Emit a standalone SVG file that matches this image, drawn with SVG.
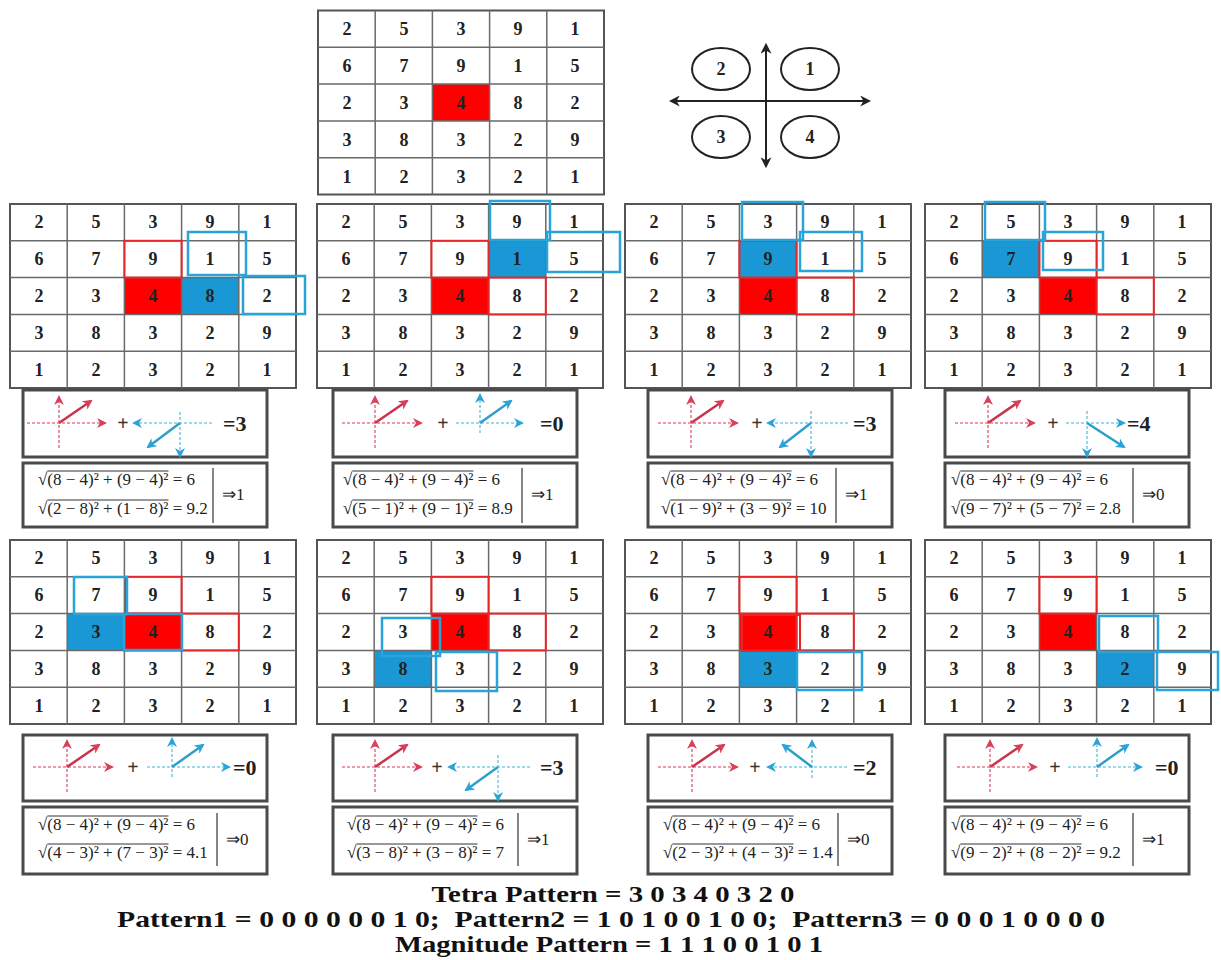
<svg xmlns="http://www.w3.org/2000/svg" width="1221" height="960" viewBox="0 0 1221 960">
<style>
.gb{fill:none;stroke:#555;stroke-width:2}
.gl{fill:none;stroke:#6a6a6a;stroke-width:1.5}
.n{font-family:"Liberation Serif",serif;font-weight:bold;font-size:18px;fill:#222;text-anchor:middle}
.rf{fill:#ff0000}
.bf{fill:#1a98d5}
.ro{fill:none;stroke:#e8262a;stroke-width:2}
.bo{fill:none;stroke:#2aa3d8;stroke-width:2.5}
.box{fill:#fff;stroke:#4a4a4a;stroke-width:3}
.f{font-family:"Liberation Serif",serif;font-size:17px;fill:#222}
.ov{fill:none;stroke:#333;stroke-width:1}
.bar{fill:none;stroke:#333;stroke-width:1.2}
.eq{font-family:"Liberation Serif",serif;font-weight:bold;font-size:22px;fill:#222}
.pl{font-family:"Liberation Serif",serif;font-weight:bold;font-size:20px;fill:#333;text-anchor:middle}
.rd{fill:none;stroke:#e7788a;stroke-width:1.6;stroke-dasharray:3 2}
.rs{fill:none;stroke:#c9344c;stroke-width:2.5}
.bd{fill:none;stroke:#7fcbe6;stroke-width:1.6;stroke-dasharray:3 2}
.bs{fill:none;stroke:#2e9ecb;stroke-width:2.5}
.ax{fill:none;stroke:#222;stroke-width:2}
.ql{font-family:"Liberation Serif",serif;font-weight:bold;font-size:18px;fill:#222;text-anchor:middle}
.bt{font-family:"Liberation Serif",serif;font-weight:bold;font-size:23px;fill:#111;text-anchor:middle}
</style>
<defs>
<marker id="ahr" viewBox="0 0 10 10" refX="8" refY="5" markerWidth="10" markerHeight="10" markerUnits="userSpaceOnUse" orient="auto"><path d="M0,0 L10,5 L0,10 L3,5 z" fill="#d8405a"/></marker>
<marker id="ahb" viewBox="0 0 10 10" refX="8" refY="5" markerWidth="10" markerHeight="10" markerUnits="userSpaceOnUse" orient="auto"><path d="M0,0 L10,5 L0,10 L3,5 z" fill="#2aa3d8"/></marker>
<marker id="ahk" viewBox="0 0 10 10" refX="8" refY="5" markerWidth="11" markerHeight="11" markerUnits="userSpaceOnUse" orient="auto-start-reverse"><path d="M0,0 L10,5 L0,10 L3,5 z" fill="#222"/></marker>
</defs>
<rect width="1221" height="960" fill="#fff"/>

<!-- top grid -->
<g id="grid-top" transform="translate(318,10.5)">
<rect class="rf" x="114.4" y="73.6" width="57.2" height="36.8"/>
<rect class="gb" width="286" height="184"/>
<path class="gl" d="M57.2 0V184M114.4 0V184M171.6 0V184M228.8 0V184M0 36.8H286M0 73.6H286M0 110.4H286M0 147.2H286"/>
<text class="n" x="29" y="24">2</text><text class="n" x="86" y="24">5</text><text class="n" x="143" y="24">3</text><text class="n" x="200" y="24">9</text><text class="n" x="257" y="24">1</text>
<text class="n" x="29" y="61">6</text><text class="n" x="86" y="61">7</text><text class="n" x="143" y="61">9</text><text class="n" x="200" y="61">1</text><text class="n" x="257" y="61">5</text>
<text class="n" x="29" y="98">2</text><text class="n" x="86" y="98">3</text><text class="n" x="143" y="98">4</text><text class="n" x="200" y="98">8</text><text class="n" x="257" y="98">2</text>
<text class="n" x="29" y="135">3</text><text class="n" x="86" y="135">8</text><text class="n" x="143" y="135">3</text><text class="n" x="200" y="135">2</text><text class="n" x="257" y="135">9</text>
<text class="n" x="29" y="172">1</text><text class="n" x="86" y="172">2</text><text class="n" x="143" y="172">3</text><text class="n" x="200" y="172">2</text><text class="n" x="257" y="172">1</text>
</g>

<!-- quadrant legend -->
<g id="quadrant-legend">
<line class="ax" x1="766" y1="45" x2="766" y2="166" marker-start="url(#ahk)" marker-end="url(#ahk)"/>
<line class="ax" x1="671" y1="101" x2="869" y2="101" marker-start="url(#ahk)" marker-end="url(#ahk)"/>
<ellipse class="ax" cx="721" cy="69" rx="29" ry="21"/><text class="ql" x="721" y="75">2</text>
<ellipse class="ax" cx="810" cy="69" rx="29" ry="21"/><text class="ql" x="810" y="75">1</text>
<ellipse class="ax" cx="721" cy="137" rx="29" ry="21"/><text class="ql" x="721" y="143">3</text>
<ellipse class="ax" cx="810" cy="137" rx="29" ry="21"/><text class="ql" x="810" y="143">4</text>
</g>

<!-- row 1 grids -->
<g id="grid-1" transform="translate(10,204)">
<rect class="rf" x="114.4" y="73.6" width="57.2" height="36.8"/>
<rect class="bf" x="171.6" y="73.6" width="57.2" height="36.8"/>
<rect class="gb" width="286" height="184"/>
<path class="gl" d="M57.2 0V184M114.4 0V184M171.6 0V184M228.8 0V184M0 36.8H286M0 73.6H286M0 110.4H286M0 147.2H286"/>
<rect class="ro" x="114.4" y="36.8" width="57.2" height="36.8"/>
<rect class="bo" x="178" y="28" width="58" height="43"/>
<rect class="bo" x="233" y="72" width="62" height="38"/>
<text class="n" x="29" y="24">2</text><text class="n" x="86" y="24">5</text><text class="n" x="143" y="24">3</text><text class="n" x="200" y="24">9</text><text class="n" x="257" y="24">1</text>
<text class="n" x="29" y="61">6</text><text class="n" x="86" y="61">7</text><text class="n" x="143" y="61">9</text><text class="n" x="200" y="61">1</text><text class="n" x="257" y="61">5</text>
<text class="n" x="29" y="98">2</text><text class="n" x="86" y="98">3</text><text class="n" x="143" y="98">4</text><text class="n" x="200" y="98">8</text><text class="n" x="257" y="98">2</text>
<text class="n" x="29" y="135">3</text><text class="n" x="86" y="135">8</text><text class="n" x="143" y="135">3</text><text class="n" x="200" y="135">2</text><text class="n" x="257" y="135">9</text>
<text class="n" x="29" y="172">1</text><text class="n" x="86" y="172">2</text><text class="n" x="143" y="172">3</text><text class="n" x="200" y="172">2</text><text class="n" x="257" y="172">1</text>
</g>

<g id="grid-2" transform="translate(317,204)">
<rect class="rf" x="114.4" y="73.6" width="57.2" height="36.8"/>
<rect class="bf" x="171.6" y="36.8" width="57.2" height="36.8"/>
<rect class="gb" width="286" height="184"/>
<path class="gl" d="M57.2 0V184M114.4 0V184M171.6 0V184M228.8 0V184M0 36.8H286M0 73.6H286M0 110.4H286M0 147.2H286"/>
<rect class="ro" x="114.4" y="36.8" width="57.2" height="36.8"/>
<rect class="ro" x="171.6" y="73.6" width="57.2" height="36.8"/>
<rect class="bo" x="173" y="-3" width="60" height="39"/>
<rect class="bo" x="230" y="28" width="73" height="40"/>
<text class="n" x="29" y="24">2</text><text class="n" x="86" y="24">5</text><text class="n" x="143" y="24">3</text><text class="n" x="200" y="24">9</text><text class="n" x="257" y="24">1</text>
<text class="n" x="29" y="61">6</text><text class="n" x="86" y="61">7</text><text class="n" x="143" y="61">9</text><text class="n" x="200" y="61">1</text><text class="n" x="257" y="61">5</text>
<text class="n" x="29" y="98">2</text><text class="n" x="86" y="98">3</text><text class="n" x="143" y="98">4</text><text class="n" x="200" y="98">8</text><text class="n" x="257" y="98">2</text>
<text class="n" x="29" y="135">3</text><text class="n" x="86" y="135">8</text><text class="n" x="143" y="135">3</text><text class="n" x="200" y="135">2</text><text class="n" x="257" y="135">9</text>
<text class="n" x="29" y="172">1</text><text class="n" x="86" y="172">2</text><text class="n" x="143" y="172">3</text><text class="n" x="200" y="172">2</text><text class="n" x="257" y="172">1</text>
</g>

<g id="grid-3" transform="translate(625,204)">
<rect class="rf" x="114.4" y="73.6" width="57.2" height="36.8"/>
<rect class="bf" x="114.4" y="36.8" width="57.2" height="36.8"/>
<rect class="gb" width="286" height="184"/>
<path class="gl" d="M57.2 0V184M114.4 0V184M171.6 0V184M228.8 0V184M0 36.8H286M0 73.6H286M0 110.4H286M0 147.2H286"/>
<rect class="ro" x="114.4" y="36.8" width="57.2" height="36.8"/>
<rect class="ro" x="171.6" y="73.6" width="57.2" height="36.8"/>
<rect class="bo" x="117" y="-2" width="61" height="38"/>
<rect class="bo" x="175" y="28" width="62" height="39"/>
<text class="n" x="29" y="24">2</text><text class="n" x="86" y="24">5</text><text class="n" x="143" y="24">3</text><text class="n" x="200" y="24">9</text><text class="n" x="257" y="24">1</text>
<text class="n" x="29" y="61">6</text><text class="n" x="86" y="61">7</text><text class="n" x="143" y="61">9</text><text class="n" x="200" y="61">1</text><text class="n" x="257" y="61">5</text>
<text class="n" x="29" y="98">2</text><text class="n" x="86" y="98">3</text><text class="n" x="143" y="98">4</text><text class="n" x="200" y="98">8</text><text class="n" x="257" y="98">2</text>
<text class="n" x="29" y="135">3</text><text class="n" x="86" y="135">8</text><text class="n" x="143" y="135">3</text><text class="n" x="200" y="135">2</text><text class="n" x="257" y="135">9</text>
<text class="n" x="29" y="172">1</text><text class="n" x="86" y="172">2</text><text class="n" x="143" y="172">3</text><text class="n" x="200" y="172">2</text><text class="n" x="257" y="172">1</text>
</g>

<g id="grid-4" transform="translate(925,204)">
<rect class="rf" x="114.4" y="73.6" width="57.2" height="36.8"/>
<rect class="bf" x="57.2" y="36.8" width="57.2" height="36.8"/>
<rect class="gb" width="286" height="184"/>
<path class="gl" d="M57.2 0V184M114.4 0V184M171.6 0V184M228.8 0V184M0 36.8H286M0 73.6H286M0 110.4H286M0 147.2H286"/>
<rect class="ro" x="114.4" y="36.8" width="57.2" height="36.8"/>
<rect class="ro" x="171.6" y="73.6" width="57.2" height="36.8"/>
<rect class="bo" x="60" y="-2" width="60" height="38"/>
<rect class="bo" x="118" y="28" width="60" height="38"/>
<text class="n" x="29" y="24">2</text><text class="n" x="86" y="24">5</text><text class="n" x="143" y="24">3</text><text class="n" x="200" y="24">9</text><text class="n" x="257" y="24">1</text>
<text class="n" x="29" y="61">6</text><text class="n" x="86" y="61">7</text><text class="n" x="143" y="61">9</text><text class="n" x="200" y="61">1</text><text class="n" x="257" y="61">5</text>
<text class="n" x="29" y="98">2</text><text class="n" x="86" y="98">3</text><text class="n" x="143" y="98">4</text><text class="n" x="200" y="98">8</text><text class="n" x="257" y="98">2</text>
<text class="n" x="29" y="135">3</text><text class="n" x="86" y="135">8</text><text class="n" x="143" y="135">3</text><text class="n" x="200" y="135">2</text><text class="n" x="257" y="135">9</text>
<text class="n" x="29" y="172">1</text><text class="n" x="86" y="172">2</text><text class="n" x="143" y="172">3</text><text class="n" x="200" y="172">2</text><text class="n" x="257" y="172">1</text>
</g>

<!-- row 2 grids -->
<g id="grid-5" transform="translate(10,540)">
<rect class="rf" x="114.4" y="73.6" width="57.2" height="36.8"/>
<rect class="bf" x="57.2" y="73.6" width="57.2" height="36.8"/>
<rect class="gb" width="286" height="184"/>
<path class="gl" d="M57.2 0V184M114.4 0V184M171.6 0V184M228.8 0V184M0 36.8H286M0 73.6H286M0 110.4H286M0 147.2H286"/>
<rect class="ro" x="116" y="36.8" width="55.6" height="36.8"/>
<rect class="ro" x="114.4" y="73.6" width="57.2" height="36.8"/>
<rect class="ro" x="171.6" y="73.6" width="57.2" height="36.8"/>
<rect class="bo" x="64" y="37" width="53" height="37"/>
<rect class="bo" x="114" y="74" width="58" height="36"/>
<text class="n" x="29" y="24">2</text><text class="n" x="86" y="24">5</text><text class="n" x="143" y="24">3</text><text class="n" x="200" y="24">9</text><text class="n" x="257" y="24">1</text>
<text class="n" x="29" y="61">6</text><text class="n" x="86" y="61">7</text><text class="n" x="143" y="61">9</text><text class="n" x="200" y="61">1</text><text class="n" x="257" y="61">5</text>
<text class="n" x="29" y="98">2</text><text class="n" x="86" y="98">3</text><text class="n" x="143" y="98">4</text><text class="n" x="200" y="98">8</text><text class="n" x="257" y="98">2</text>
<text class="n" x="29" y="135">3</text><text class="n" x="86" y="135">8</text><text class="n" x="143" y="135">3</text><text class="n" x="200" y="135">2</text><text class="n" x="257" y="135">9</text>
<text class="n" x="29" y="172">1</text><text class="n" x="86" y="172">2</text><text class="n" x="143" y="172">3</text><text class="n" x="200" y="172">2</text><text class="n" x="257" y="172">1</text>
</g>

<g id="grid-6" transform="translate(317,540)">
<rect class="rf" x="114.4" y="73.6" width="57.2" height="36.8"/>
<rect class="bf" x="57.2" y="110.4" width="57.2" height="36.8"/>
<rect class="gb" width="286" height="184"/>
<path class="gl" d="M57.2 0V184M114.4 0V184M171.6 0V184M228.8 0V184M0 36.8H286M0 73.6H286M0 110.4H286M0 147.2H286"/>
<rect class="ro" x="114.4" y="36.8" width="57.2" height="36.8"/>
<rect class="ro" x="171.6" y="73.6" width="57.2" height="36.8"/>
<rect class="bo" x="65" y="78" width="58" height="38"/>
<rect class="bo" x="119" y="112" width="61" height="39"/>
<text class="n" x="29" y="24">2</text><text class="n" x="86" y="24">5</text><text class="n" x="143" y="24">3</text><text class="n" x="200" y="24">9</text><text class="n" x="257" y="24">1</text>
<text class="n" x="29" y="61">6</text><text class="n" x="86" y="61">7</text><text class="n" x="143" y="61">9</text><text class="n" x="200" y="61">1</text><text class="n" x="257" y="61">5</text>
<text class="n" x="29" y="98">2</text><text class="n" x="86" y="98">3</text><text class="n" x="143" y="98">4</text><text class="n" x="200" y="98">8</text><text class="n" x="257" y="98">2</text>
<text class="n" x="29" y="135">3</text><text class="n" x="86" y="135">8</text><text class="n" x="143" y="135">3</text><text class="n" x="200" y="135">2</text><text class="n" x="257" y="135">9</text>
<text class="n" x="29" y="172">1</text><text class="n" x="86" y="172">2</text><text class="n" x="143" y="172">3</text><text class="n" x="200" y="172">2</text><text class="n" x="257" y="172">1</text>
</g>

<g id="grid-7" transform="translate(625,540)">
<rect class="rf" x="114.4" y="73.6" width="57.2" height="36.8"/>
<rect class="bf" x="114.4" y="110.4" width="57.2" height="36.8"/>
<rect class="gb" width="286" height="184"/>
<path class="gl" d="M57.2 0V184M114.4 0V184M171.6 0V184M228.8 0V184M0 36.8H286M0 73.6H286M0 110.4H286M0 147.2H286"/>
<rect class="ro" x="114.4" y="36.8" width="57.2" height="36.8"/>
<rect class="ro" x="117" y="75" width="58" height="36"/>
<rect class="ro" x="171.6" y="73.6" width="57.2" height="36.8"/>
<rect class="bo" x="172" y="112" width="65" height="38"/>
<text class="n" x="29" y="24">2</text><text class="n" x="86" y="24">5</text><text class="n" x="143" y="24">3</text><text class="n" x="200" y="24">9</text><text class="n" x="257" y="24">1</text>
<text class="n" x="29" y="61">6</text><text class="n" x="86" y="61">7</text><text class="n" x="143" y="61">9</text><text class="n" x="200" y="61">1</text><text class="n" x="257" y="61">5</text>
<text class="n" x="29" y="98">2</text><text class="n" x="86" y="98">3</text><text class="n" x="143" y="98">4</text><text class="n" x="200" y="98">8</text><text class="n" x="257" y="98">2</text>
<text class="n" x="29" y="135">3</text><text class="n" x="86" y="135">8</text><text class="n" x="143" y="135">3</text><text class="n" x="200" y="135">2</text><text class="n" x="257" y="135">9</text>
<text class="n" x="29" y="172">1</text><text class="n" x="86" y="172">2</text><text class="n" x="143" y="172">3</text><text class="n" x="200" y="172">2</text><text class="n" x="257" y="172">1</text>
</g>

<g id="grid-8" transform="translate(925,540)">
<rect class="rf" x="114.4" y="73.6" width="57.2" height="36.8"/>
<rect class="bf" x="171.6" y="110.4" width="57.2" height="36.8"/>
<rect class="gb" width="286" height="184"/>
<path class="gl" d="M57.2 0V184M114.4 0V184M171.6 0V184M228.8 0V184M0 36.8H286M0 73.6H286M0 110.4H286M0 147.2H286"/>
<rect class="ro" x="114.4" y="36.8" width="57.2" height="36.8"/>
<rect class="bo" x="174" y="76" width="59" height="36"/>
<rect class="bo" x="232" y="112" width="61" height="38"/>
<text class="n" x="29" y="24">2</text><text class="n" x="86" y="24">5</text><text class="n" x="143" y="24">3</text><text class="n" x="200" y="24">9</text><text class="n" x="257" y="24">1</text>
<text class="n" x="29" y="61">6</text><text class="n" x="86" y="61">7</text><text class="n" x="143" y="61">9</text><text class="n" x="200" y="61">1</text><text class="n" x="257" y="61">5</text>
<text class="n" x="29" y="98">2</text><text class="n" x="86" y="98">3</text><text class="n" x="143" y="98">4</text><text class="n" x="200" y="98">8</text><text class="n" x="257" y="98">2</text>
<text class="n" x="29" y="135">3</text><text class="n" x="86" y="135">8</text><text class="n" x="143" y="135">3</text><text class="n" x="200" y="135">2</text><text class="n" x="257" y="135">9</text>
<text class="n" x="29" y="172">1</text><text class="n" x="86" y="172">2</text><text class="n" x="143" y="172">3</text><text class="n" x="200" y="172">2</text><text class="n" x="257" y="172">1</text>
</g>

<!-- direction boxes row 1 -->
<g id="dir-1">
<rect class="box" x="23" y="390" width="244" height="67"/>
<path class="rd" d="M27 423H105" marker-end="url(#ahr)"/>
<path class="rd" d="M59 448V397" marker-end="url(#ahr)"/>
<path class="rs" d="M59 423L91 401" marker-end="url(#ahr)"/>
<text class="pl" x="123" y="430">+</text>
<path class="bd" d="M212 423H134" marker-end="url(#ahb)"/>
<path class="bd" d="M180 412V456" marker-end="url(#ahb)"/>
<path class="bs" d="M180 423L148 447" marker-end="url(#ahb)"/>
<text class="eq" x="223" y="431">=3</text>
</g>
<g id="dir-2">
<rect class="box" x="333" y="390" width="244" height="67"/>
<path class="rd" d="M342 423H421" marker-end="url(#ahr)"/>
<path class="rd" d="M375 448V397" marker-end="url(#ahr)"/>
<path class="rs" d="M375 423L407 401" marker-end="url(#ahr)"/>
<text class="pl" x="443" y="430">+</text>
<path class="bd" d="M456 423H522" marker-end="url(#ahb)"/>
<path class="bd" d="M480 433V395" marker-end="url(#ahb)"/>
<path class="bs" d="M480 423L511 401" marker-end="url(#ahb)"/>
<text class="eq" x="540" y="431">=0</text>
</g>
<g id="dir-3">
<rect class="box" x="648" y="390" width="244" height="67"/>
<path class="rd" d="M658 423H737" marker-end="url(#ahr)"/>
<path class="rd" d="M691 448V397" marker-end="url(#ahr)"/>
<path class="rs" d="M691 423L723 401" marker-end="url(#ahr)"/>
<text class="pl" x="757" y="430">+</text>
<path class="bd" d="M848 423H768" marker-end="url(#ahb)"/>
<path class="bd" d="M811 411V456" marker-end="url(#ahb)"/>
<path class="bs" d="M811 423L780 447" marker-end="url(#ahb)"/>
<text class="eq" x="853" y="431">=3</text>
</g>
<g id="dir-4">
<rect class="box" x="945" y="390" width="244" height="67"/>
<path class="rd" d="M955 423H1034" marker-end="url(#ahr)"/>
<path class="rd" d="M988 448V397" marker-end="url(#ahr)"/>
<path class="rs" d="M988 423L1020 401" marker-end="url(#ahr)"/>
<text class="pl" x="1053" y="430">+</text>
<path class="bd" d="M1066 423H1124" marker-end="url(#ahb)"/>
<path class="bd" d="M1087 411V456" marker-end="url(#ahb)"/>
<path class="bs" d="M1087 423L1124 447" marker-end="url(#ahb)"/>
<text class="eq" x="1127" y="431">=4</text>
</g>

<!-- formula boxes row 1 -->
<g id="mag-1">
<rect class="box" x="23" y="463" width="244" height="64"/>
<text class="f" x="38" y="485">√(8 − 4)² + (9 − 4)² = 6</text><path class="ov" d="M47.4 471H168.5"/>
<text class="f" x="38" y="514">√(2 − 8)² + (1 − 8)² = 9.2</text><path class="ov" d="M47.4 500H168.5"/>
<path class="bar" d="M213 468V523"/>
<text class="f" x="222" y="500">⇒1</text>
</g>
<g id="mag-2">
<rect class="box" x="333" y="463" width="244" height="64"/>
<text class="f" x="343" y="485">√(8 − 4)² + (9 − 4)² = 6</text><path class="ov" d="M352.4 471H473.5"/>
<text class="f" x="343" y="514">√(5 − 1)² + (9 − 1)² = 8.9</text><path class="ov" d="M352.4 500H473.5"/>
<path class="bar" d="M522 468V523"/>
<text class="f" x="531" y="500">⇒1</text>
</g>
<g id="mag-3">
<rect class="box" x="648" y="463" width="244" height="64"/>
<text class="f" x="661" y="485">√(8 − 4)² + (9 − 4)² = 6</text><path class="ov" d="M670.4 471H791.5"/>
<text class="f" x="661" y="514">√(1 − 9)² + (3 − 9)² = 10</text><path class="ov" d="M670.4 500H791.5"/>
<path class="bar" d="M836 468V523"/>
<text class="f" x="845" y="500">⇒1</text>
</g>
<g id="mag-4">
<rect class="box" x="945" y="463" width="244" height="64"/>
<text class="f" x="951" y="485">√(8 − 4)² + (9 − 4)² = 6</text><path class="ov" d="M960.4 471H1081.5"/>
<text class="f" x="951" y="514">√(9 − 7)² + (5 − 7)² = 2.8</text><path class="ov" d="M960.4 500H1081.5"/>
<path class="bar" d="M1133 468V523"/>
<text class="f" x="1142" y="500">⇒0</text>
</g>

<!-- direction boxes row 2 -->
<g id="dir-5">
<rect class="box" x="23" y="735" width="244" height="66"/>
<path class="rd" d="M33 767H112" marker-end="url(#ahr)"/>
<path class="rd" d="M67 792V741" marker-end="url(#ahr)"/>
<path class="rs" d="M67 767L99 745" marker-end="url(#ahr)"/>
<text class="pl" x="133" y="774">+</text>
<path class="bd" d="M147 767H229" marker-end="url(#ahb)"/>
<path class="bd" d="M172 777V739" marker-end="url(#ahb)"/>
<path class="bs" d="M172 767L203 745" marker-end="url(#ahb)"/>
<text class="eq" x="233" y="775">=0</text>
</g>
<g id="dir-6">
<rect class="box" x="333" y="735" width="244" height="66"/>
<path class="rd" d="M342 767H421" marker-end="url(#ahr)"/>
<path class="rd" d="M375 792V741" marker-end="url(#ahr)"/>
<path class="rs" d="M375 767L407 745" marker-end="url(#ahr)"/>
<text class="pl" x="437" y="774">+</text>
<path class="bd" d="M530 767H449" marker-end="url(#ahb)"/>
<path class="bd" d="M498 755V800" marker-end="url(#ahb)"/>
<path class="bs" d="M498 767L466 790" marker-end="url(#ahb)"/>
<text class="eq" x="540" y="775">=3</text>
</g>
<g id="dir-7">
<rect class="box" x="648" y="735" width="244" height="66"/>
<path class="rd" d="M658 767H737" marker-end="url(#ahr)"/>
<path class="rd" d="M692 792V741" marker-end="url(#ahr)"/>
<path class="rs" d="M692 767L724 745" marker-end="url(#ahr)"/>
<text class="pl" x="755" y="774">+</text>
<path class="bd" d="M847 767H768" marker-end="url(#ahb)"/>
<path class="bd" d="M812 778V741" marker-end="url(#ahb)"/>
<path class="bs" d="M812 767L783 745" marker-end="url(#ahb)"/>
<text class="eq" x="853" y="775">=2</text>
</g>
<g id="dir-8">
<rect class="box" x="945" y="735" width="244" height="66"/>
<path class="rd" d="M957 767H1036" marker-end="url(#ahr)"/>
<path class="rd" d="M990 792V741" marker-end="url(#ahr)"/>
<path class="rs" d="M990 767L1022 745" marker-end="url(#ahr)"/>
<text class="pl" x="1055" y="774">+</text>
<path class="bd" d="M1068 767H1141" marker-end="url(#ahb)"/>
<path class="bd" d="M1097 777V739" marker-end="url(#ahb)"/>
<path class="bs" d="M1097 767L1128 745" marker-end="url(#ahb)"/>
<text class="eq" x="1155" y="775">=0</text>
</g>

<!-- formula boxes row 2 -->
<g id="mag-5">
<rect class="box" x="23" y="807" width="244" height="67"/>
<text class="f" x="38" y="830">√(8 − 4)² + (9 − 4)² = 6</text><path class="ov" d="M47.4 816H168.5"/>
<text class="f" x="38" y="858">√(4 − 3)² + (7 − 3)² = 4.1</text><path class="ov" d="M47.4 844H168.5"/>
<path class="bar" d="M217 813V866"/>
<text class="f" x="226" y="845">⇒0</text>
</g>
<g id="mag-6">
<rect class="box" x="333" y="807" width="244" height="67"/>
<text class="f" x="347" y="830">√(8 − 4)² + (9 − 4)² = 6</text><path class="ov" d="M356.4 816H477.5"/>
<text class="f" x="347" y="858">√(3 − 8)² + (3 − 8)² = 7</text><path class="ov" d="M356.4 844H477.5"/>
<path class="bar" d="M518 813V866"/>
<text class="f" x="527" y="845">⇒1</text>
</g>
<g id="mag-7">
<rect class="box" x="648" y="807" width="244" height="67"/>
<text class="f" x="663" y="830">√(8 − 4)² + (9 − 4)² = 6</text><path class="ov" d="M672.4 816H793.5"/>
<text class="f" x="663" y="858">√(2 − 3)² + (4 − 3)² = 1.4</text><path class="ov" d="M672.4 844H793.5"/>
<path class="bar" d="M838 813V866"/>
<text class="f" x="847" y="845">⇒0</text>
</g>
<g id="mag-8">
<rect class="box" x="945" y="807" width="244" height="67"/>
<text class="f" x="951" y="830">√(8 − 4)² + (9 − 4)² = 6</text><path class="ov" d="M960.4 816H1081.5"/>
<text class="f" x="951" y="858">√(9 − 2)² + (8 − 2)² = 9.2</text><path class="ov" d="M960.4 844H1081.5"/>
<path class="bar" d="M1133 813V866"/>
<text class="f" x="1142" y="845">⇒1</text>
</g>

<g id="connectors"></g>

<!-- bottom summary -->
<g id="summary">
<text class="bt" x="613" y="902" textLength="363" lengthAdjust="spacingAndGlyphs">Tetra Pattern = 3 0 3 4 0 3 2 0</text>
<text class="bt" x="611" y="927" textLength="988" lengthAdjust="spacingAndGlyphs" xml:space="preserve">Pattern1 = 0 0 0 0 0 0 1 0;  Pattern2 = 1 0 1 0 0 1 0 0;  Pattern3 = 0 0 0 1 0 0 0 0</text>
<text class="bt" x="609" y="952" textLength="428" lengthAdjust="spacingAndGlyphs">Magnitude Pattern = 1 1 1 0 0 1 0 1</text>
</g>
</svg>
